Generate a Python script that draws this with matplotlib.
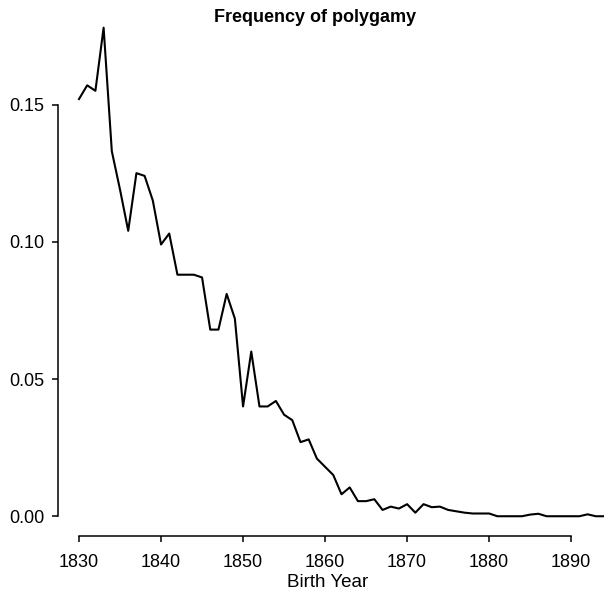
import numpy as np
import matplotlib
matplotlib.use("Agg")
import matplotlib.pyplot as plt

plt.rcParams["font.family"] = ["Liberation Sans", "DejaVu Sans"]

# frequency of polygamy by birth year
years = np.arange(1830, 1895)
freq = [0.152, 0.157, 0.155, 0.178, 0.133, 0.119, 0.104, 0.125, 0.124, 0.115,
        0.099, 0.103, 0.088, 0.088, 0.088, 0.087, 0.068, 0.068, 0.081, 0.072,
        0.040, 0.060, 0.040, 0.040, 0.042, 0.037, 0.035, 0.027, 0.028, 0.021,
        0.018, 0.015, 0.008, 0.0105, 0.0055, 0.0055, 0.0062, 0.0023, 0.0035, 0.0028,
        0.0044, 0.0013, 0.0044, 0.0033, 0.0035, 0.0023, 0.0018, 0.0013, 0.0010, 0.0010,
        0.0010, 0.0, 0.0, 0.0, 0.0, 0.0006, 0.0009, 0.0, 0.0, 0.0,
        0.0, 0.0, 0.0007, 0.0, 0.0]
xticks = [1830, 1840, 1850, 1860, 1870, 1880, 1890]
yticks = [0.00, 0.05, 0.10, 0.15]

W, H = 604, 595
fig = plt.figure(figsize=(W / 100, H / 100), dpi=100)
# R-style plot region, right side cropped by the figure edge
ax = fig.add_axes([58 / W, (H - 536) / H, (625 - 58) / W, 530 / H])
ax.plot(years, freq, color="black", lw=1.5)

ax.set_xlim(1827.44, 1896.56)
ax.set_ylim(-0.0072, 0.1859)
ax.set_xticks(xticks)
ax.set_yticks(yticks)
ax.set_yticklabels([f"{v:.2f}" for v in yticks])
ax.spines["top"].set_visible(False)
ax.spines["right"].set_visible(False)
ax.spines["left"].set_bounds(0, 0.15)
ax.spines["bottom"].set_bounds(1830, 1890)
for s in ("left", "bottom"):
    ax.spines[s].set_linewidth(1.1)
ax.tick_params(axis="both", length=4, width=1.1, labelsize=13, color="black")
ax.tick_params(axis="y", pad=6)
ax.tick_params(axis="x", pad=9)
ax.set_xlabel("Birth Year", fontsize=13.5)
ax.xaxis.set_label_coords((328 - 58) / (625 - 58), -0.072)

fig.text(315 / W, 1 - 18 / H, "Frequency of polygamy", ha="center", va="center",
         fontsize=13, fontweight="bold")

fig.savefig("out.png", dpi=100)
